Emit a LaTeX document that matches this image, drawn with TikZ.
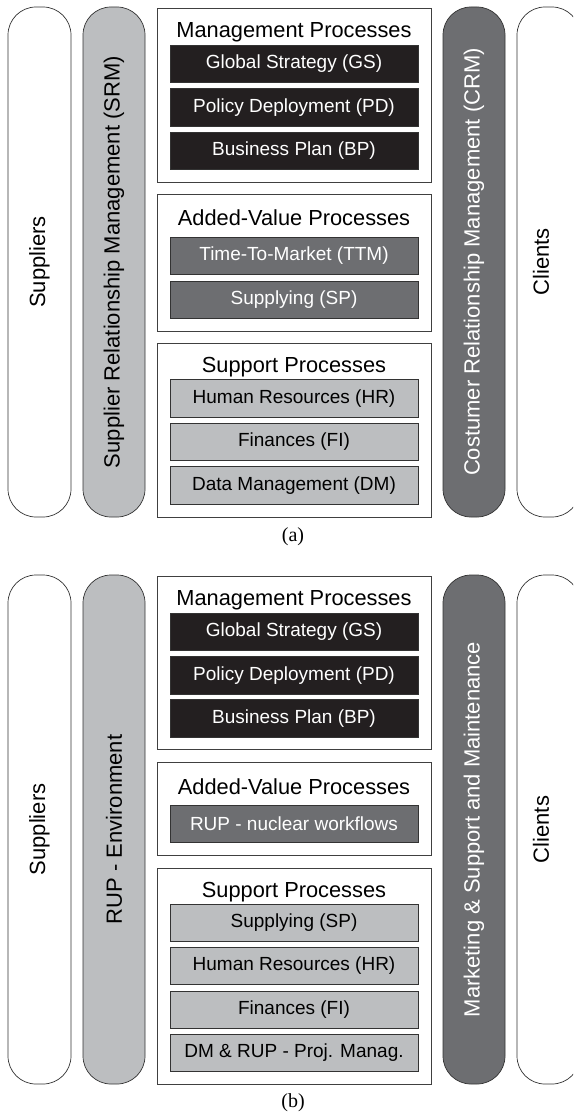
\documentclass[tikz,border=0pt]{standalone}
\usepackage{fontspec}
\setmainfont{Liberation Sans}
\newfontfamily\capfont{Liberation Serif}
\definecolor{boxblack}{HTML}{231F20}
\definecolor{boxdark}{HTML}{6D6E71}
\definecolor{boxlight}{HTML}{BCBEC0}
\begin{document}
\begin{tikzpicture}[x=1pt, y=-1pt, line width=0.7pt,
    pill/.style={draw=black!80, rounded corners=28pt, rotate=90, minimum width=510pt, minimum height=63pt, inner sep=0pt, font=\fontsize{22}{26}\selectfont},
    procbox/.style={draw=black!75, fill=white, minimum width=274pt, inner sep=0pt},
    titletext/.style={inner sep=0pt, font=\fontsize{21.8}{24}\selectfont},
    taskbox/.style={draw=black!80, minimum width=248pt, minimum height=37.5pt, inner sep=0pt, font=\fontsize{19}{22}\selectfont},
    mgtbox/.style={taskbox, fill=boxblack, text=white},
    valbox/.style={taskbox, fill=boxdark, text=white},
    supbox/.style={taskbox, fill=boxlight},
    captext/.style={inner sep=0pt, font=\capfont\fontsize{20}{24}\selectfont}]
    \useasboundingbox (0,0) rectangle (573,1115);
    \clip (0,0) rectangle (573,1115);

    % (a)
    \node (supA) [pill, fill=white] at (39.5,262) {Suppliers};
    \node (srmA) [pill, fill=boxlight, minimum height=62pt] at (114,262) {Supplier Relationship Management (SRM)};
    \node (crmA) [pill, fill=boxdark, text=white, minimum height=62pt] at (474,262) {Costumer Relationship Management (CRM)};
    \node (cliA) [pill, fill=white] at (548.5,262) {};
    \node (cliAtext) [rotate=90, font=\fontsize{22}{26}\selectfont] at (541,262) {Clients};

    \node (mgtA) [procbox, minimum height=174pt] at (294,95) {};
    \node (mgtAtitle) [titletext] at (294,32) {Management Processes};
    \node (gsA) [mgtbox] at (294,64) {Global Strategy (GS)};
    \node (pdA) [mgtbox] at (294,107.5) {Policy Deployment (PD)};
    \node (bpA) [mgtbox] at (294,151) {Business Plan (BP)};

    \node (valA) [procbox, minimum height=137pt] at (294,262.5) {};
    \node (valAtitle) [titletext] at (294,218) {Added-Value Processes};
    \node (ttmA) [valbox] at (294,256) {Time-To-Market (TTM)};
    \node (spA) [valbox] at (294,300) {Supplying (SP)};

    \node (supportA) [procbox, minimum height=174pt] at (294,430) {};
    \node (supportAtitle) [titletext] at (294,367) {Support Processes};
    \node (hrA) [supbox] at (294,398.5) {Human Resources (HR)};
    \node (fiA) [supbox] at (294,442) {Finances (FI)};
    \node (dmA) [supbox] at (294,485.5) {Data Management (DM)};

    \node (capA) [captext] at (293,537) {(a)};

    % (b)
    \node (supB) [pill, fill=white, minimum width=509pt] at (39.5,829.5) {Suppliers};
    \node (rupB) [pill, fill=boxlight, minimum width=509pt, minimum height=62pt] at (114,829.5) {RUP - Environment};
    \node (mktB) [pill, fill=boxdark, text=white, minimum width=509pt, minimum height=62pt] at (474,829.5) {Marketing \& Support and Maintenance};
    \node (cliB) [pill, fill=white, minimum width=509pt] at (548.5,829.5) {};
    \node (cliBtext) [rotate=90, font=\fontsize{22}{26}\selectfont] at (541,829.5) {Clients};

    \node (mgtB) [procbox, minimum height=173pt] at (294,662.5) {};
    \node (mgtBtitle) [titletext] at (294,600) {Management Processes};
    \node (gsB) [mgtbox] at (294,632) {Global Strategy (GS)};
    \node (pdB) [mgtbox] at (294,675.5) {Policy Deployment (PD)};
    \node (bpB) [mgtbox] at (294,718.5) {Business Plan (BP)};

    \node (valB) [procbox, minimum height=93pt] at (294,808.5) {};
    \node (valBtitle) [titletext] at (294,787) {Added-Value Processes};
    \node (nucB) [valbox] at (294,824) {RUP - nuclear workflows};

    \node (supportB) [procbox, minimum height=216pt] at (294,976) {};
    \node (supportBtitle) [titletext] at (294,892) {Support Processes};
    \node (spB) [supbox] at (294,923) {Supplying (SP)};
    \node (hrB) [supbox] at (294,966) {Human Resources (HR)};
    \node (fiB) [supbox] at (294,1010) {Finances (FI)};
    \node (dmB) [supbox] at (294,1053) {DM \& RUP - Proj. Manag.};

    \node (capB) [captext] at (293,1103) {(b)};
\end{tikzpicture}
\end{document}
